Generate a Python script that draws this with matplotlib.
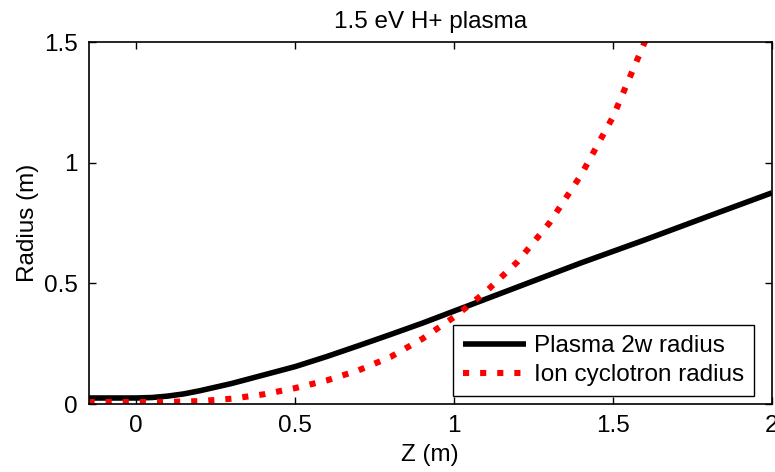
import matplotlib
matplotlib.use("Agg")
import matplotlib.pyplot as plt

plt.rcParams['font.family'] = ['Liberation Sans', 'DejaVu Sans']

# Plasma 2w radius vs axial position
z_plasma = [-0.15, 0.0, 0.05, 0.1, 0.15, 0.2, 0.3, 0.4, 0.5, 0.6, 0.7,
            0.8, 0.9, 1.0, 1.1, 1.2, 1.3, 1.4, 1.6, 1.8, 2.0]
r_plasma = [0.025, 0.025, 0.027, 0.033, 0.042, 0.055, 0.085, 0.12, 0.155,
            0.197, 0.242, 0.288, 0.335, 0.385, 0.435, 0.485, 0.535, 0.585,
            0.68, 0.778, 0.875]

# Ion cyclotron radius vs axial position (continues past the top of the axes)
z_ion = [-0.15, 0.0, 0.1, 0.2, 0.3, 0.4, 0.5, 0.6, 0.7, 0.8, 0.9, 1.0,
         1.1, 1.2, 1.3, 1.4, 1.5, 1.6, 1.65]
r_ion = [0.008, 0.008, 0.009, 0.012, 0.022, 0.04, 0.066, 0.098, 0.14,
         0.195, 0.27, 0.36, 0.465, 0.59, 0.75, 0.95, 1.19, 1.5, 1.66]

x_ticks = [0, 0.5, 1, 1.5, 2]
x_tick_labels = ['0', '0.5', '1', '1.5', '2']
y_ticks = [0, 0.5, 1, 1.5]
y_tick_labels = ['0', '0.5', '1', '1.5']

FS = 17.5

fig = plt.figure(figsize=(7.75, 4.72), dpi=100)
ax = fig.add_axes([0.1142, 0.144, 0.8818, 0.767])

ax.plot(z_plasma, r_plasma, color='black', lw=4.0, solid_capstyle='butt',
        solid_joinstyle='round', label='Plasma 2w radius')
ax.plot(z_ion, r_ion, color='#ff0000', lw=4.4, linestyle=(0, (1, 1.8)),
        dash_capstyle='butt', label='Ion cyclotron radius')

ax.set_xlim(-0.15, 2)
ax.set_ylim(0, 1.5)
ax.set_xticks(x_ticks)
ax.set_xticklabels(x_tick_labels)
ax.set_yticks(y_ticks)
ax.set_yticklabels(y_tick_labels)

ax.tick_params(direction='in', length=5, width=1, top=True, right=True,
               labelsize=FS, pad=8)
for s in ax.spines.values():
    s.set_linewidth(1.2)

ax.set_title('1.5 eV H+ plasma', fontsize=FS, pad=10)
ax.set_xlabel('Z (m)', fontsize=FS, labelpad=5)
ax.set_ylabel('Radius (m)', fontsize=FS, labelpad=3)

leg = ax.legend(loc='lower right', bbox_to_anchor=(0.974, 0.022),
                borderaxespad=0, fontsize=FS, fancybox=False, framealpha=1,
                edgecolor='black', handlelength=2.6, handletextpad=0.35,
                labelspacing=0.3, borderpad=0.4)
leg.get_frame().set_linewidth(1)

fig.savefig('out.png', dpi=100)
